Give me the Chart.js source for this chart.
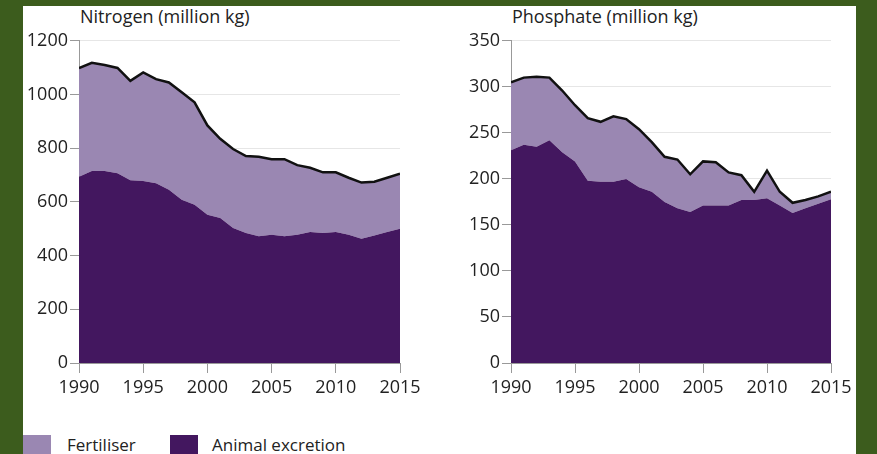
<!DOCTYPE html>
<html>
<head>
<meta charset="utf-8">
<script src="https://cdn.jsdelivr.net/npm/chart.js@4"></script>
<style>
  body { margin: 0; width: 877px; height: 454px; background: #3c5c1d; position: relative; overflow: hidden; font-family: "Open Sans", sans-serif; }
  #panel { position: absolute; left: 23px; top: 6px; width: 833px; height: 448px; background: #fff; }
  canvas { position: absolute; }
  .title { position: absolute; font-size: 18px; color: #222; top: 4px; }
  .sw { position: absolute; width: 28px; height: 22px; top: 435px; }
  .lg { position: absolute; font-size: 17px; color: #222; top: 433px; }
</style>
</head>
<body>
<div id="panel"></div>
<div class="title" style="left:80px">Nitrogen (million kg)</div>
<div class="title" style="left:512px">Phosphate (million kg)</div>
<canvas id="nitrogen" width="412" height="382" style="left:20px;top:28px"></canvas>
<canvas id="phosphate" width="404" height="382" style="left:452px;top:28px"></canvas>
<div class="sw" style="left:23px;background:#9a87b2"></div>
<div class="lg" style="left:67px">Fertiliser</div>
<div class="sw" style="left:170px;background:#43175f"></div>
<div class="lg" style="left:212px">Animal excretion</div>
<script>
// years on the x axis
var years = [1990, 1991, 1992, 1993, 1994, 1995, 1996, 1997, 1998, 1999, 2000, 2001, 2002,
             2003, 2004, 2005, 2006, 2007, 2008, 2009, 2010, 2011, 2012, 2013, 2014, 2015];

// nitrogen, million kg
var nitrogenAnimal = [694, 715, 715, 707, 681, 678, 669, 645, 608, 589, 552, 540, 503,
                      484, 472, 478, 472, 478, 488, 484, 488, 478, 463, 475, 488, 500];
var nitrogenFertiliser = [404, 403, 395, 392, 370, 404, 388, 400, 400, 382, 333, 295, 294,
                          287, 296, 281, 287, 259, 239, 226, 222, 212, 209, 200, 202, 205];

// phosphate, million kg
var phosphateAnimal = [231, 237, 235, 242, 229, 219, 198, 197, 197, 200, 191, 186, 175,
                       168, 164, 171, 171, 171, 177, 177, 179, 171, 163, 168, 173, 178];
var phosphateFertiliser = [74, 73, 76, 68, 67, 61, 68, 65, 71, 65, 63, 54, 49,
                           53, 41, 48, 47, 36, 27, 9, 30, 15, 11, 9, 8, 8];

var darkPurple = '#43175f';
var lightPurple = '#9a87b2';
var tickFont = { family: 'Open Sans', size: 18 };

function makeChart(id, animal, fertiliser, yMax, yStep, padTop, padRight) {
    var ctx = document.getElementById(id).getContext('2d');
    return new Chart(ctx, {
        type: 'line',
        data: {
            labels: years,
            datasets: [{
                label: 'Animal excretion',
                data: animal,
                backgroundColor: darkPurple,
                borderWidth: 0,
                fill: 'origin'
            }, {
                label: 'Fertiliser',
                data: fertiliser,
                backgroundColor: lightPurple,
                borderColor: '#111',
                borderWidth: 2.5,
                fill: '-1'
            }]
        },
        options: {
            responsive: false,
            animation: false,
            layout: { padding: { top: padTop, right: padRight, left: 0, bottom: 0 } },
            elements: { point: { radius: 0 }, line: { tension: 0 } },
            plugins: { legend: { display: false }, tooltip: { enabled: false } },
            scales: {
                x: {
                    type: 'linear',
                    min: 1990,
                    max: 2015,
                    ticks: { stepSize: 5, color: '#222', font: tickFont, padding: 4, maxRotation: 0,
                             callback: function (v) { return String(v); } },
                    grid: { drawOnChartArea: false, tickLength: 10, color: '#999' },
                    border: { color: '#999' },
                    afterFit: function (s) { s.height = 47; }
                },
                y: {
                    stacked: true,
                    min: 0,
                    max: yMax,
                    ticks: { stepSize: yStep, color: '#222', font: tickFont, padding: 2,
                             callback: function (v) { return String(v); } },
                    grid: { color: function (c) { return c.tick.value === 0 ? '#999' : '#e6e6e6'; },
                            tickColor: '#999', tickLength: 9 },
                    border: { color: '#999' },
                    afterFit: function (s) { s.width = 59; }
                }
            }
        }
    });
}

document.addEventListener('DOMContentLoaded', function () {
    makeChart('nitrogen', nitrogenAnimal, nitrogenFertiliser, 1200, 200, 10, 32);
    makeChart('phosphate', phosphateAnimal, phosphateFertiliser, 350, 50, 12, 25);
});
</script>
</body>
</html>
